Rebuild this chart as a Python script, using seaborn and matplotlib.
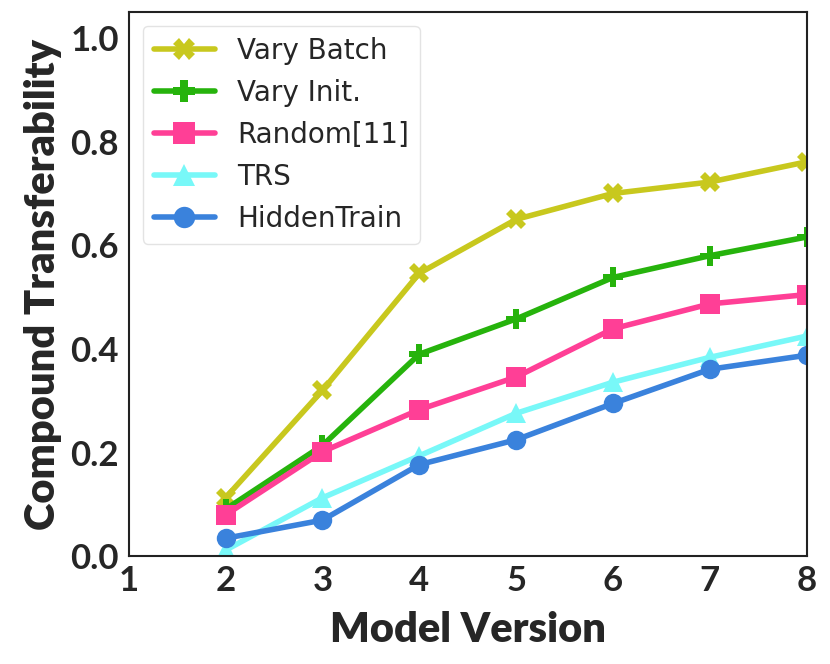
import seaborn as sns
import matplotlib.pyplot as plt
import pandas as pd

# values
versions = [2, 3, 4, 5, 6, 7, 8]
vary_batch = [0.113, 0.320, 0.546, 0.650, 0.700, 0.722, 0.761]
vary_init = [0.091, 0.214, 0.390, 0.458, 0.538, 0.580, 0.616]
random11 = [0.080, 0.202, 0.283, 0.346, 0.439, 0.487, 0.505]
trs = [0.012, 0.113, 0.194, 0.276, 0.336, 0.384, 0.425]
hidden_train = [0.035, 0.070, 0.177, 0.225, 0.295, 0.361, 0.388]

series = {
    "Vary Batch": vary_batch,
    "Vary Init.": vary_init,
    "Random[11]": random11,
    "TRS": trs,
    "HiddenTrain": hidden_train,
}
rows = []
for name, vals in series.items():
    for v, y in zip(versions, vals):
        rows.append({"Model Version": v, "Method": name, "Value": y})
df = pd.DataFrame(rows)

colors = ["#c8c81e", "#26b30c", "#ff3f96", "#78f8f8", "#3a82dc"]
markers = ["X", "P", "s", "^", "o"]

sns.set_style("white")
plt.rcParams["font.family"] = ["DejaVu Sans"]

fig, ax = plt.subplots(figsize=(8.3, 6.64), dpi=100)

sns.lineplot(
    data=df, x="Model Version", y="Value", hue="Method", style="Method",
    palette=colors, markers=markers, dashes=False, linewidth=4,
    markersize=14, markeredgewidth=0, ax=ax,
)

ax.set_xlim(1, 8)
ax.set_ylim(0, 1.05)
ax.set_xticks(range(1, 9))
ax.set_yticks([0.0, 0.2, 0.4, 0.6, 0.8, 1.0])
ax.set_yticklabels(["0.0", "0.2", "0.4", "0.6", "0.8", "1.0"])

bold = {"family": "Lato", "weight": "heavy"}
ax.set_xlabel("Model Version", fontsize=30, fontdict=bold, labelpad=10)
ax.set_ylabel("Compound Transferability", fontsize=30, fontdict=bold, labelpad=6)
for lab in ax.get_xticklabels() + ax.get_yticklabels():
    lab.set_family("Lato")
    lab.set_weight("bold")
    lab.set_fontsize(25)
ax.tick_params(axis="x", length=0, pad=6)
ax.tick_params(axis="y", length=0, pad=7)

for s in ax.spines.values():
    s.set_color("#222222")
    s.set_linewidth(1.5)

leg = ax.legend(loc="upper left", fontsize=20, handlelength=2.2,
                borderpad=0.4, labelspacing=0.5, frameon=True,
                markerscale=1.1)
leg.get_frame().set_edgecolor("#dddddd")

plt.subplots_adjust(left=0.155, right=0.972, top=0.982, bottom=0.162)
plt.savefig("out.png", dpi=100)
plt.close()
